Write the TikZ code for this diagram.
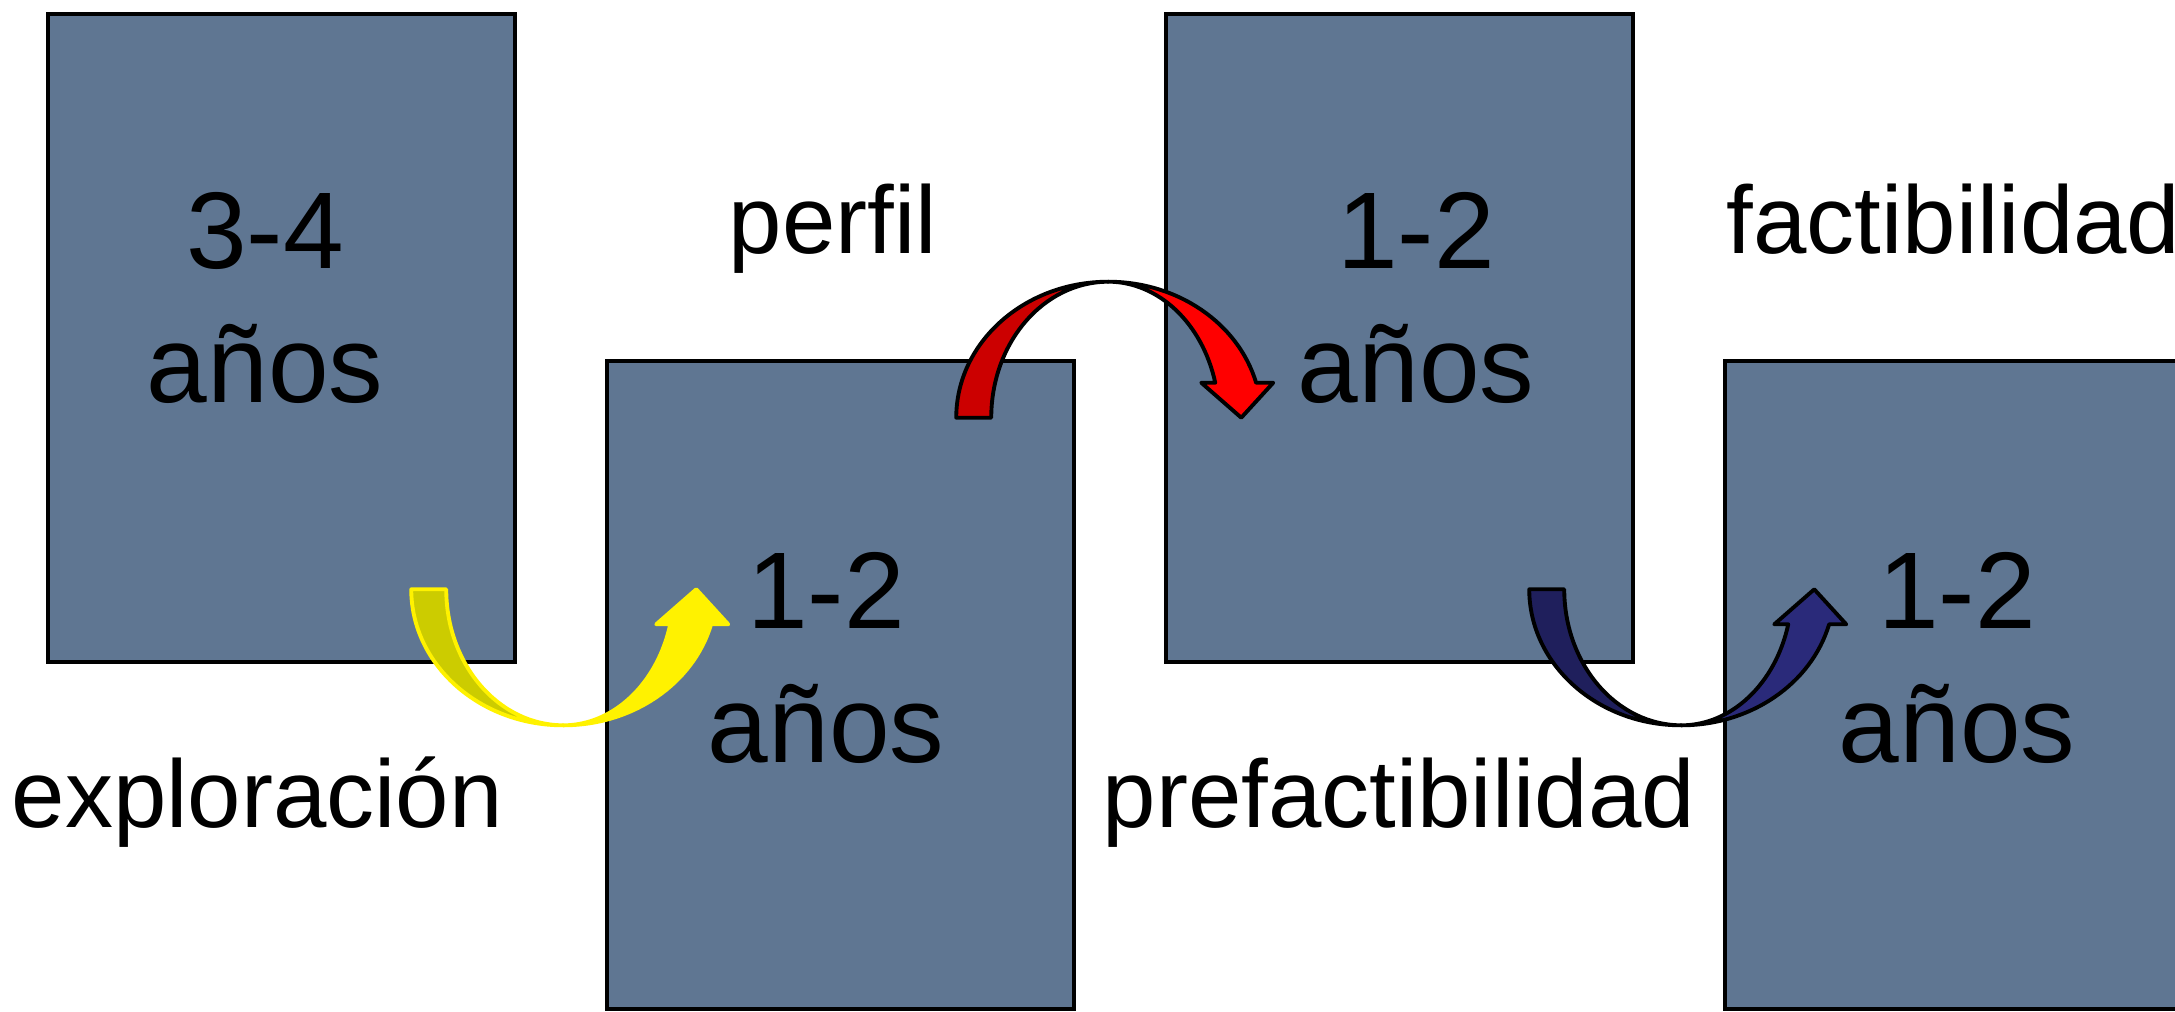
\documentclass[tikz,border=0pt]{standalone}
\usepackage{fontspec}
\setmainfont{Liberation Sans}
\usetikzlibrary{calc}

\definecolor{slate}{RGB}{95,118,146}
\definecolor{yellowdark}{RGB}{204,204,0}
\definecolor{reddark}{RGB}{204,0,0}
\definecolor{navy}{RGB}{42,42,122}
\definecolor{navydark}{RGB}{31,31,92}

\tikzset{
	card/.style={draw, fill=slate, line width=1.2pt, minimum width=4.67cm, minimum height=6.48cm, inner sep=0pt},
	yrs/.style={align=center, font=\fontsize{31}{38}\selectfont, inner sep=0pt, anchor=base},
	stage/.style={font=\fontsize{27.3}{33}\selectfont, inner sep=0pt, anchor=base west}
}

% bent block arrow, origin at the left end of its tail
\newcommand{\bentarrow}[4]{%
	\begin{scope}[#1]
		\filldraw[draw=#2, fill=#3, line width=1.1pt, line join=round] (0,0) -- (35,0)
			arc[start angle=180, end angle=90, x radius=117, y radius=136]
			arc[start angle=90, end angle=180, x radius=152, y radius=136] -- cycle;
		\filldraw[draw=#2, fill=#4, line width=1.1pt, line join=round] (152,136)
			arc[start angle=90, end angle=14.9, x radius=153, y radius=136]
			-- (317,35) -- (285,0) -- (245,35) -- (259,35)
			arc[start angle=14.9, end angle=90, x radius=110.8, y radius=136] -- cycle;
	\end{scope}}

\begin{document}
\begin{tikzpicture}[x=0.01cm, y=-0.01cm]
	\useasboundingbox[fill=white] (0,0) rectangle (2175,1011);

	\foreach \i/\x/\y in {1/281.5/338, 2/840.5/685, 3/1399.5/338, 4/1959/685}{
		\node[card] (b\i) at (\x, \y) {};
	}

	\bentarrow{shift={($(b1.south east)+(-106,-75)$)}}{yellow}{yellowdark}{yellow}
	\bentarrow{shift={($(b2.north east)+(-120,59)$)}, yscale=-1}{black}{reddark}{red}
	\bentarrow{shift={($(b3.south east)+(-106,-75)$)}}{black}{navydark}{navy}

	% base anchor sits on the second line
	\foreach \i/\x/\y/\t in {1/265/402/3-4, 2/826/762/1-2, 3/1416/402/1-2, 4/1957/762/1-2}{
		\node[yrs] (t\i) at (\x, \y) {\t\\años};
	}

	\node[stage] (explor) at (11, 827) {exploración};
	\node[stage] (perfil) at (728, 253) {perfil};
	\node[stage] (prefac) at (1102, 827) {prefactibilidad};
	\node[stage] (factib) at (1726, 253) {factibilidad};
\end{tikzpicture}
\end{document}
